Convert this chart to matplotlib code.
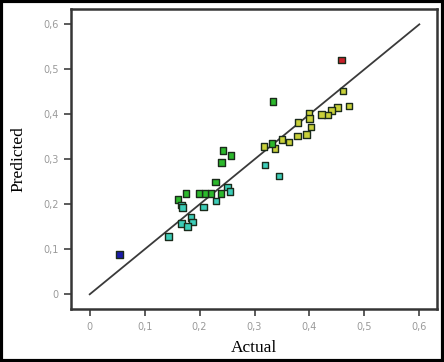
import numpy as np
from matplotlib import pyplot as plt
from matplotlib.patches import Rectangle

# actual vs predicted values
actual = [0.054, 0.458, 0.334,
          0.461, 0.472, 0.451, 0.440, 0.433, 0.422, 0.399, 0.400, 0.379, 0.403,
          0.395, 0.378, 0.363, 0.350, 0.337, 0.317,
          0.332, 0.243, 0.257, 0.240, 0.229, 0.239, 0.221, 0.210, 0.199, 0.175, 0.161,
          0.319, 0.345, 0.2505, 0.255, 0.230, 0.167, 0.169, 0.207, 0.184, 0.187, 0.167,
          0.178, 0.143]
predicted = [0.089, 0.521, 0.428,
             0.452, 0.418, 0.415, 0.409, 0.398, 0.400, 0.403, 0.391, 0.382, 0.372,
             0.355, 0.352, 0.339, 0.344, 0.324, 0.328,
             0.335, 0.320, 0.308, 0.293, 0.250, 0.224, 0.224, 0.224, 0.224, 0.224, 0.211,
             0.287, 0.263, 0.239, 0.228, 0.207, 0.198, 0.193, 0.194, 0.171, 0.161, 0.157,
             0.151, 0.129]
groups = ['blue', 'red', 'green'] + ['yellow'] * 16 + ['green'] * 11 + ['cyan'] * 13

palette = {'blue': '#1a1aa8', 'red': '#c8202a', 'green': '#2cb82c',
           'yellow': '#c8d03a', 'cyan': '#3ccdb8'}

ticks = [0, 0.1, 0.2, 0.3, 0.4, 0.5, 0.6]
tick_labels = ['0', '0,1', '0,2', '0,3', '0,4', '0,5', '0,6']

fig = plt.figure(figsize=(4.44, 3.62), dpi=100)
ax = fig.add_axes([0.16, 0.146, 0.824, 0.829])

ax.plot([0, 0.6], [0, 0.6], color='#3a3a3a', linewidth=1.3, zorder=2)
ax.scatter(actual, predicted, marker='s', s=22,
           c=[palette[g] for g in groups], edgecolors='#1a2a1a', linewidths=1.0, zorder=3)

ax.set_xlim(-0.034, 0.632)
ax.set_ylim(-0.033, 0.634)
ax.set_xticks(ticks)
ax.set_xticklabels(tick_labels)
ax.set_yticks(ticks)
ax.set_yticklabels(tick_labels)
ax.tick_params(direction='out', length=5, width=1.2, color='#404040',
               labelcolor='#9a9a9a', labelsize=7, pad=4)

for s in ax.spines.values():
    s.set_color('#353535')
    s.set_linewidth(1.8)

ax.set_xlabel('Actual', family='Liberation Serif', fontsize=12.5, labelpad=6)
ax.set_ylabel('Predicted', family='Liberation Serif', fontsize=12.5, labelpad=12)

# black frame around the whole picture
fig.patches.append(Rectangle((0.003, 0.004), 0.994, 0.992, transform=fig.transFigure,
                             fill=False, edgecolor='black', linewidth=3))

plt.savefig('out.png', dpi=100)
